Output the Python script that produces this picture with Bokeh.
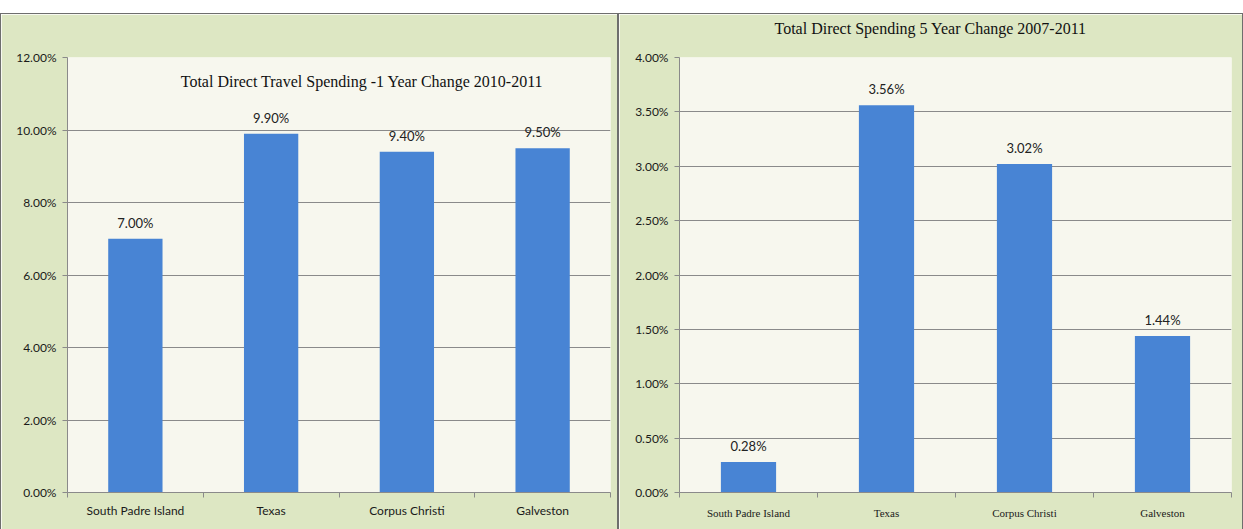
from bokeh.plotting import figure
from bokeh.models import (Range1d, FixedTicker, PrintfTickFormatter, Label, Spacer,
                          ColumnDataSource, Title)
from bokeh.layouts import row, column
from bokeh.embed import file_html
from bokeh.resources import INLINE
from bokeh.core.properties import value

categories = ["South Padre Island", "Texas", "Corpus Christi", "Galveston"]
one_year = [7.00, 9.90, 9.40, 9.50]
five_year = [0.28, 3.56, 3.02, 1.44]
left_title = "Total Direct Travel Spending -1 Year Change 2010-2011"
right_title = "Total Direct Spending 5 Year Change 2007-2011"
left_ticks = [0, 2, 4, 6, 8, 10, 12]
right_ticks = [0, 0.5, 1.0, 1.5, 2.0, 2.5, 3.0, 3.5, 4.0]

GREEN = "#dde7c3"
PLOT_BG = "#f7f7ee"
BAR = "#4884d4"
GRID = "#8a8a8a"
SANS = "Lato"
SERIF = "Liberation Serif"


def make(vals, ymax, ticks, w, h, mb, xfont, xsize, xstand):
    p = figure(width=w, height=h, output_backend="svg", toolbar_location=None,
               x_range=Range1d(0, len(categories)), y_range=Range1d(0, ymax),
               min_border_left=mb[0], min_border_right=mb[1],
               min_border_top=mb[2], min_border_bottom=mb[3])
    p.background_fill_color = PLOT_BG
    p.border_fill_color = GREEN
    p.outline_line_color = None
    xs = [i + 0.5 for i in range(len(categories))]
    src = ColumnDataSource(dict(x=xs, top=vals,
                                lab=["%.2f%%" % v for v in vals]))
    p.vbar(x="x", top="top", width=0.4, source=src, fill_color=BAR, line_color=None)
    p.text(x="x", y="top", text="lab", source=src, text_align="center",
           text_baseline="bottom", y_offset=-8, text_font=value(SANS),
           text_font_size="13px", text_color="#222222")
    p.xaxis.ticker = FixedTicker(ticks=xs, minor_ticks=list(range(len(categories) + 1)))
    p.xaxis.major_label_overrides = {x: c for x, c in zip(xs, categories)}
    p.xaxis.major_tick_line_color = None
    p.xaxis.minor_tick_out = 5
    p.xaxis.minor_tick_in = 0
    p.xaxis.minor_tick_line_color = GRID
    p.xaxis.axis_line_color = GRID
    p.xaxis.major_label_text_font = xfont
    p.xaxis.major_label_text_font_size = xsize
    p.xaxis.major_label_text_color = "#1a1a1a"
    p.xaxis.major_label_standoff = xstand
    p.yaxis.ticker = FixedTicker(ticks=ticks)
    p.yaxis.formatter = PrintfTickFormatter(format="%.2f%%")
    p.yaxis.axis_line_color = GRID
    p.yaxis.major_tick_line_color = GRID
    p.yaxis.major_tick_out = 5
    p.yaxis.major_tick_in = 0
    p.yaxis.minor_tick_line_color = None
    p.yaxis.major_label_text_font = SANS
    p.yaxis.major_label_text_font_size = "12px"
    p.yaxis.major_label_text_color = "#1a1a1a"
    p.yaxis.major_label_standoff = 6
    p.xgrid.grid_line_color = None
    p.ygrid.ticker = FixedTicker(ticks=ticks)
    p.ygrid.grid_line_color = GRID
    p.ygrid.grid_line_width = 1
    return p


p1 = make(one_year, 12, left_ticks, 616, 515, (66, 7, 43, 37), SANS, "12px", 4)
p1.add_layout(Label(x=2.17, y=11.35, text=left_title, text_align="center",
                    text_baseline="middle", text_font=SERIF, text_font_size="16px",
                    text_color="#111111"))

p2 = make(five_year, 4, right_ticks, 623, 515, (60, 11, 43, 33), SERIF, "11px", 8)
# thin spacer panel nearest the frame, then the real title above it
p2.add_layout(Title(text=" ", text_font_size="1px", standoff=18), "above")
p2.title.text = right_title
p2.title.align = "left"
p2.title.offset = 95
p2.title.standoff = 0
p2.title.text_font = SERIF
p2.title.text_font_size = "16px"
p2.title.text_font_style = "normal"
p2.title.text_color = "#111111"

edge = dict(background_color="#6e6e6e")
layout = column(
    Spacer(width=1243, height=13),
    Spacer(width=1243, height=1, styles=edge),
    row(Spacer(width=1, height=515, styles=edge), p1,
        Spacer(width=2, height=515, styles=edge), p2,
        Spacer(width=1, height=515, styles=edge)),
)
open("out.html", "w").write(file_html(layout, INLINE))
